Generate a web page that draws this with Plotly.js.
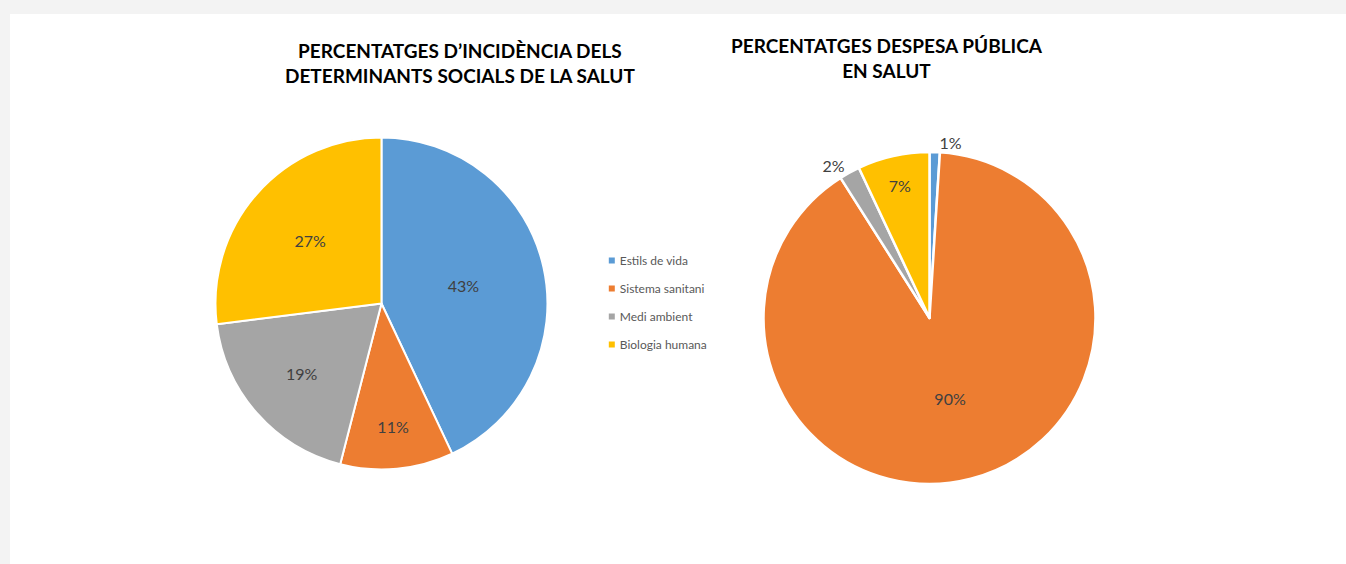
<!DOCTYPE html>
<html>
<head>
<meta charset="utf-8">
<script src="https://cdn.plot.ly/plotly-3.0.1.min.js"></script>
<style>
    body { margin: 0; background: #f3f3f3; }
    #plotArea { position: absolute; left: 10px; top: 14px; width: 1336px; height: 550px; }
    .legendpoints { transform: translateX(12px); }
</style>
</head>
<body>
<div id="plotArea"></div>
<script>
// Categories and values
var labels = ["Estils de vida", "Sistema sanitani", "Medi ambient", "Biologia humana"];
var colors = ["#5B9BD5", "#ED7D31", "#A5A5A5", "#FFC000"];
var incidencia = [43, 11, 19, 27];
var despesa = [1, 90, 2, 7];

var titleLeft = "PERCENTATGES D’INCIDÈNCIA DELS<br>DETERMINANTS SOCIALS DE LA SALUT";
var titleRight = "PERCENTATGES DESPESA PÚBLICA<br>EN SALUT";

var textFont = {family: "Lato, sans-serif", size: 16, color: "#404040"};

// Left pie
var pieLeft = {
    type: "pie",
    labels: labels,
    values: incidencia,
    marker: {colors: colors, line: {color: "#ffffff", width: 2}},
    sort: false,
    direction: "clockwise",
    texttemplate: "%{value}%",
    textposition: "inside",
    insidetextorientation: "horizontal",
    textfont: textFont,
    showlegend: false,
    hoverinfo: "label+percent",
    domain: {x: [0.1538, 0.4023], y: [0.1718, 0.7755]}
};

// Right pie
var pieRight = {
    type: "pie",
    labels: labels,
    values: despesa,
    marker: {colors: colors, line: {color: "#ffffff", width: 2.5}},
    sort: false,
    direction: "clockwise",
    texttemplate: "%{value}%",
    textposition: ["outside", "inside", "outside", "inside"],
    insidetextorientation: "horizontal",
    textfont: textFont,
    outsidetextfont: textFont,
    showlegend: false,
    hoverinfo: "label+percent",
    domain: {x: [0.5640, 0.8125], y: [0.1455, 0.7491]}
};

// Legend entries (small squares, one group each so the gap can be set)
var legendTraces = labels.map(function(label, i) {
    return {
        type: "scatter",
        mode: "markers",
        x: [null],
        y: [null],
        name: label,
        legendgroup: "g" + i,
        marker: {symbol: "square", size: 6, color: colors[i]},
        showlegend: true,
        hoverinfo: "skip"
    };
});

var data = [pieLeft, pieRight].concat(legendTraces);

var layout = {
    paper_bgcolor: "#ffffff",
    plot_bgcolor: "rgba(0,0,0,0)",
    margin: {l: 0, r: 0, t: 0, b: 0},
    xaxis: {visible: false},
    yaxis: {visible: false},
    showlegend: true,
    legend: {
        x: 0.4265,
        y: 0.578,
        xanchor: "left",
        yanchor: "top",
        traceorder: "grouped",
        tracegroupgap: 9,
        font: {family: "Lato, sans-serif", size: 12, color: "#595959"},
        bgcolor: "rgba(0,0,0,0)"
    },
    annotations: [
        {
            text: "<b>" + titleLeft + "</b>",
            xref: "paper", yref: "paper",
            x: 0.3368, y: 0.9109,
            xanchor: "center", yanchor: "middle",
            showarrow: false,
            font: {family: "Lato, sans-serif", size: 19, color: "#000000"}
        },
        {
            text: "<b>" + titleRight + "</b>",
            xref: "paper", yref: "paper",
            x: 0.6564, y: 0.9191,
            xanchor: "center", yanchor: "middle",
            showarrow: false,
            font: {family: "Lato, sans-serif", size: 19, color: "#000000"}
        }
    ]
};

Plotly.newPlot("plotArea", data, layout, {displayModeBar: false});
</script>
</body>
</html>
